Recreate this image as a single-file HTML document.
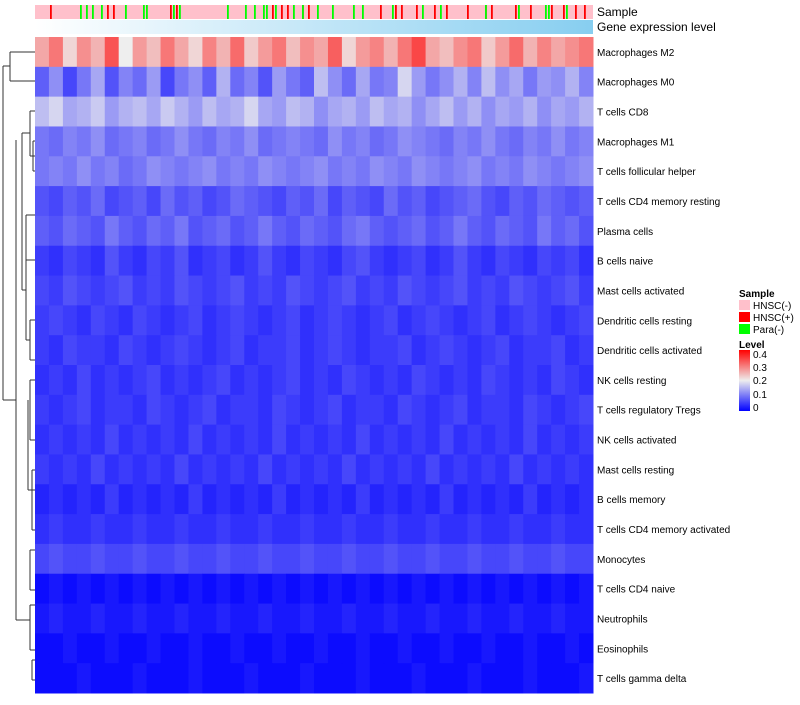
<!DOCTYPE html>
<html><head><meta charset="utf-8">
<style>
body{margin:0;background:#fff;font-family:"Liberation Sans",sans-serif;}
svg text{font-family:"Liberation Sans",sans-serif;}
</style></head><body>
<svg id="chart" width="800" height="700" xmlns="http://www.w3.org/2000/svg">
<defs>
<linearGradient id="geneGrad" x1="0" x2="1" y1="0" y2="0"><stop offset="0" stop-color="#ffffff"/><stop offset="1" stop-color="#87cef0"/></linearGradient>
<linearGradient id="levelGrad" x1="0" x2="0" y1="1" y2="0"><stop offset="0" stop-color="#0000ff"/><stop offset="0.5" stop-color="#eeeeee"/><stop offset="1" stop-color="#ff0000"/></linearGradient>
</defs>
<g id="annot"></g>
<g id="cells"></g>
<g id="dendro" stroke="#333" stroke-width="1" fill="none">
<path d="M10,52 V81 M10,52 H35 M10,81 H35 M3,66 H10"/>
<path d="M30,111 V156 M30,111 H35 M30,156 H35 M33,141 V171 M33,141H35 M33,171H35"/>
<path d="M22,133 V290 M22,133 H30 M26,215 V260 M26,215H35 M26,260H35 M22,290H26 M26,245 V340 M26,340H30 M30,320V360 M30,320H35 M30,360H35 M30,380 V440 M30,380H35 M30,440H35 M28,400 V490 M28,490H35 M32,470 V530 M32,470H35 M32,530H35 M30,550V590 M30,550H35 M30,590H35"/>
<path d="M16,140 V620 M16,620 H30 M30,605V650 M30,605H35 M30,650H35 M32,660V680 M32,660H35 M32,680H35 M3,66 V400 M3,400H16"/>
</g>
<text x="597" y="16" font-size="12">Sample</text>
<text x="597" y="31" font-size="12">Gene expression level</text>
<g id="labels" font-size="10" fill="#000"></g>
<g id="legend" font-size="10">
<text x="739" y="297" font-weight="bold">Sample</text>
<rect x="739" y="300" width="11" height="10" fill="#ffc0cb"/>
<text x="753" y="309">HNSC(-)</text>
<rect x="739" y="312" width="11" height="10" fill="#ff0000"/>
<text x="753" y="321">HNSC(+)</text>
<rect x="739" y="324" width="11" height="10" fill="#00ff00"/>
<text x="753" y="333">Para(-)</text>
<text x="739" y="348" font-weight="bold">Level</text>
<rect x="739" y="350" width="11" height="61" fill="url(#levelGrad)"/>
<text x="753" y="358">0.4</text>
<text x="753" y="371">0.3</text>
<text x="753" y="384">0.2</text>
<text x="753" y="398">0.1</text>
<text x="753" y="411">0</text>
</g>
</svg>
<script>
const rowNames=["Macrophages M2","Macrophages M0","T cells CD8","Macrophages M1","T cells follicular helper","T cells CD4 memory resting","Plasma cells","B cells naive","Mast cells activated","Dendritic cells resting","Dendritic cells activated","NK cells resting","T cells regulatory  Tregs","NK cells activated","Mast cells resting","B cells memory","T cells CD4 memory activated","Monocytes","T cells CD4 naive","Neutrophils","Eosinophils","T cells gamma delta"];
const cellValues=[
[0.26,0.3,0.22,0.28,0.25,0.33,0.2,0.27,0.24,0.3,0.26,0.22,0.29,0.25,0.31,0.23,0.27,0.3,0.24,0.28,0.26,0.32,0.22,0.27,0.29,0.25,0.3,0.34,0.26,0.24,0.28,0.3,0.23,0.27,0.31,0.25,0.29,0.26,0.28,0.3],
[0.08,0.12,0.06,0.1,0.14,0.07,0.11,0.09,0.13,0.06,0.1,0.12,0.08,0.15,0.09,0.11,0.07,0.13,0.1,0.08,0.16,0.12,0.09,0.14,0.1,0.11,0.18,0.13,0.1,0.12,0.15,0.11,0.16,0.12,0.14,0.1,0.13,0.12,0.15,0.11],
[0.16,0.18,0.14,0.15,0.17,0.13,0.15,0.16,0.14,0.17,0.15,0.13,0.16,0.14,0.15,0.18,0.14,0.13,0.16,0.15,0.12,0.14,0.15,0.13,0.16,0.14,0.15,0.12,0.14,0.16,0.13,0.15,0.12,0.14,0.13,0.15,0.12,0.14,0.13,0.15],
[0.1,0.09,0.11,0.1,0.12,0.09,0.1,0.11,0.09,0.1,0.12,0.1,0.09,0.11,0.1,0.12,0.09,0.1,0.11,0.1,0.09,0.12,0.1,0.11,0.09,0.1,0.12,0.11,0.1,0.09,0.11,0.1,0.12,0.1,0.09,0.11,0.1,0.12,0.1,0.11],
[0.1,0.11,0.1,0.12,0.1,0.11,0.09,0.1,0.12,0.11,0.1,0.11,0.12,0.1,0.11,0.1,0.12,0.11,0.1,0.11,0.12,0.1,0.11,0.1,0.12,0.11,0.1,0.12,0.11,0.1,0.11,0.12,0.1,0.11,0.1,0.12,0.11,0.1,0.11,0.12],
[0.07,0.06,0.08,0.07,0.09,0.06,0.07,0.08,0.06,0.09,0.07,0.08,0.06,0.07,0.09,0.08,0.07,0.06,0.08,0.07,0.09,0.06,0.08,0.07,0.06,0.09,0.07,0.08,0.06,0.07,0.08,0.09,0.07,0.06,0.08,0.07,0.09,0.08,0.07,0.08],
[0.08,0.07,0.09,0.08,0.07,0.1,0.08,0.07,0.09,0.08,0.1,0.07,0.08,0.09,0.07,0.08,0.1,0.08,0.07,0.09,0.08,0.07,0.09,0.1,0.08,0.07,0.08,0.09,0.07,0.08,0.1,0.08,0.07,0.09,0.08,0.07,0.1,0.08,0.09,0.07],
[0.05,0.04,0.06,0.05,0.04,0.07,0.05,0.04,0.06,0.05,0.07,0.04,0.05,0.06,0.04,0.05,0.07,0.05,0.04,0.06,0.05,0.04,0.06,0.07,0.05,0.04,0.05,0.06,0.04,0.05,0.07,0.05,0.04,0.06,0.05,0.04,0.06,0.05,0.06,0.04],
[0.06,0.05,0.07,0.06,0.05,0.06,0.07,0.05,0.06,0.05,0.07,0.06,0.05,0.06,0.07,0.05,0.06,0.05,0.07,0.06,0.05,0.06,0.07,0.05,0.06,0.05,0.07,0.06,0.05,0.06,0.07,0.05,0.06,0.05,0.07,0.06,0.05,0.06,0.07,0.05],
[0.05,0.06,0.05,0.04,0.06,0.05,0.04,0.06,0.05,0.04,0.05,0.06,0.04,0.05,0.06,0.05,0.04,0.05,0.06,0.04,0.05,0.06,0.05,0.04,0.05,0.06,0.04,0.05,0.06,0.05,0.04,0.05,0.06,0.04,0.05,0.06,0.05,0.04,0.05,0.06],
[0.05,0.04,0.06,0.05,0.05,0.04,0.06,0.05,0.04,0.05,0.06,0.05,0.04,0.05,0.06,0.04,0.05,0.05,0.06,0.04,0.05,0.06,0.05,0.04,0.05,0.05,0.06,0.04,0.05,0.06,0.05,0.04,0.05,0.06,0.04,0.05,0.05,0.06,0.04,0.05],
[0.04,0.05,0.04,0.06,0.04,0.05,0.04,0.05,0.06,0.04,0.05,0.04,0.05,0.06,0.04,0.05,0.04,0.05,0.06,0.04,0.05,0.04,0.06,0.05,0.04,0.05,0.04,0.06,0.05,0.04,0.05,0.04,0.06,0.05,0.04,0.05,0.04,0.06,0.05,0.04],
[0.05,0.04,0.05,0.06,0.04,0.05,0.05,0.04,0.06,0.05,0.04,0.05,0.06,0.04,0.05,0.05,0.04,0.06,0.05,0.04,0.05,0.06,0.04,0.05,0.05,0.04,0.06,0.05,0.04,0.05,0.06,0.04,0.05,0.05,0.04,0.06,0.05,0.04,0.05,0.06],
[0.04,0.05,0.04,0.05,0.04,0.06,0.04,0.05,0.04,0.05,0.04,0.06,0.04,0.05,0.04,0.05,0.04,0.06,0.04,0.05,0.04,0.05,0.04,0.06,0.04,0.05,0.04,0.05,0.04,0.06,0.04,0.05,0.04,0.05,0.04,0.06,0.04,0.05,0.04,0.05],
[0.05,0.04,0.05,0.04,0.06,0.04,0.05,0.04,0.05,0.04,0.06,0.04,0.05,0.04,0.05,0.04,0.06,0.04,0.05,0.04,0.05,0.04,0.06,0.04,0.05,0.04,0.05,0.04,0.06,0.04,0.05,0.04,0.05,0.04,0.06,0.04,0.05,0.04,0.05,0.04],
[0.03,0.04,0.03,0.04,0.03,0.05,0.03,0.04,0.03,0.04,0.03,0.05,0.03,0.04,0.03,0.04,0.03,0.05,0.03,0.04,0.03,0.04,0.03,0.05,0.03,0.04,0.03,0.04,0.03,0.05,0.03,0.04,0.03,0.04,0.03,0.05,0.03,0.04,0.03,0.04],
[0.04,0.05,0.04,0.04,0.05,0.04,0.04,0.05,0.04,0.04,0.05,0.04,0.04,0.05,0.04,0.04,0.05,0.04,0.04,0.05,0.04,0.04,0.05,0.04,0.04,0.05,0.04,0.04,0.05,0.04,0.04,0.05,0.04,0.04,0.05,0.04,0.04,0.05,0.04,0.04],
[0.06,0.07,0.06,0.06,0.07,0.06,0.06,0.07,0.06,0.06,0.07,0.06,0.06,0.07,0.06,0.06,0.07,0.06,0.06,0.07,0.06,0.06,0.07,0.06,0.06,0.07,0.06,0.06,0.07,0.06,0.06,0.07,0.06,0.06,0.07,0.06,0.06,0.07,0.06,0.06],
[0.01,0.02,0.01,0.02,0.01,0.02,0.01,0.02,0.01,0.02,0.01,0.02,0.01,0.02,0.01,0.02,0.01,0.02,0.01,0.02,0.01,0.02,0.01,0.02,0.01,0.02,0.01,0.02,0.01,0.02,0.01,0.02,0.01,0.02,0.01,0.02,0.01,0.02,0.01,0.02],
[0.02,0.03,0.02,0.02,0.03,0.02,0.02,0.03,0.02,0.02,0.03,0.02,0.02,0.03,0.02,0.02,0.03,0.02,0.02,0.03,0.02,0.02,0.03,0.02,0.02,0.03,0.02,0.02,0.03,0.02,0.02,0.03,0.02,0.02,0.03,0.02,0.02,0.03,0.02,0.02],
[0.01,0.01,0.02,0.01,0.01,0.02,0.01,0.01,0.02,0.01,0.01,0.02,0.01,0.01,0.02,0.01,0.01,0.02,0.01,0.01,0.02,0.01,0.01,0.02,0.01,0.01,0.02,0.01,0.01,0.02,0.01,0.01,0.02,0.01,0.01,0.02,0.01,0.01,0.02,0.01],
[0.01,0.01,0.01,0.02,0.01,0.01,0.01,0.02,0.01,0.01,0.01,0.02,0.01,0.01,0.01,0.02,0.01,0.01,0.01,0.02,0.01,0.01,0.01,0.02,0.01,0.01,0.01,0.02,0.01,0.01,0.01,0.02,0.01,0.01,0.01,0.02,0.01,0.01,0.01,0.02]
];
const sampleCount=186;
const redSamples=[5,24,26,45,47,79,82,84,89,91,115,120,122,127,133,137,144,150,152,160,165,172,176,180,183];
const greenSamples=[15,17,19,22,30,36,37,46,48,64,70,73,76,77,80,86,89,94,99,106,109,119,129,135,150,161,170,171,177];
const domainMax=0.4;

const X0=35,X1=593,Y0=37,Y1=693;
const svg=document.getElementById('chart');
const NS='http://www.w3.org/2000/svg';
function lerp(a,b,t){return Math.round(a+(b-a)*t);}
function colorOf(v){
  let t=Math.max(0,Math.min(1,v/domainMax));
  if(t<0.5){const u=t/0.5;return `rgb(${lerp(0,238,u)},${lerp(0,238,u)},${lerp(255,238,u)})`;}
  const u=(t-0.5)/0.5;return `rgb(${lerp(238,255,u)},${lerp(238,0,u)},${lerp(238,0,u)})`;
}
const rowH=(Y1-Y0)/rowNames.length;
const cells=document.getElementById('cells');
cellValues.forEach((row,r)=>{
  const cw=(X1-X0)/row.length;
  row.forEach((v,c)=>{
    const el=document.createElementNS(NS,'rect');
    el.setAttribute('x',X0+c*cw);el.setAttribute('y',Y0+r*rowH);
    el.setAttribute('width',cw+0.5);el.setAttribute('height',rowH+0.5);
    el.setAttribute('fill',colorOf(v));
    
    
    cells.appendChild(el);
  });
});
const labels=document.getElementById('labels');
rowNames.forEach((n,r)=>{
  const t=document.createElementNS(NS,'text');
  t.setAttribute('x',597);t.setAttribute('y',Y0+r*rowH+rowH/2+4);
  t.textContent=n;
  
  
  labels.appendChild(t);
});
const annot=document.getElementById('annot');
const bg=document.createElementNS(NS,'rect');
bg.setAttribute('x',X0);bg.setAttribute('y',5);bg.setAttribute('width',X1-X0);bg.setAttribute('height',14);bg.setAttribute('fill','#ffc0cb');


annot.appendChild(bg);
const sw=(X1-X0)/sampleCount;
function addStripe(i,col){
  const s=document.createElementNS(NS,'rect');
  s.setAttribute('x',X0+i*sw);s.setAttribute('y',5);s.setAttribute('width',Math.max(sw*0.6,1.2));s.setAttribute('height',14);s.setAttribute('fill',col);
  
  
  annot.appendChild(s);
}
redSamples.forEach(i=>addStripe(i,'#ff0000'));
greenSamples.forEach(i=>addStripe(i,'#00ff00'));
const g=document.createElementNS(NS,'rect');
g.setAttribute('x',X0);g.setAttribute('y',20);g.setAttribute('width',X1-X0);g.setAttribute('height',14);g.setAttribute('fill','url(#geneGrad)');


annot.appendChild(g);
</script>
</body></html>
